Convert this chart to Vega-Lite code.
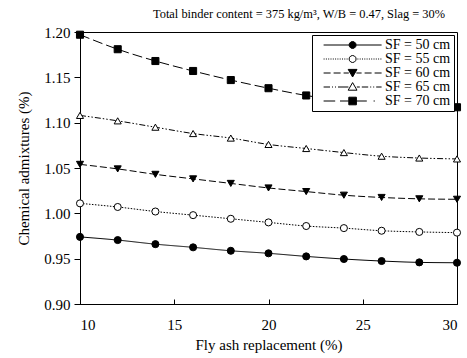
{
  "$schema": "https://vega.github.io/schema/vega-lite/v6.json",
  "width": 377,
  "height": 272,
  "autosize": {"type": "none"},
  "padding": {"left": 80, "top": 32, "right": 10, "bottom": 54},
  "background": "white",
  "title": {
    "text": "Total binder content = 375 kg/m³, W/B = 0.47, Slag = 30%",
    "font": "Liberation Serif",
    "fontSize": 12.4,
    "fontWeight": "normal",
    "color": "black",
    "anchor": "start",
    "frame": "group",
    "dx": 73,
    "offset": 5
  },
  "data": {
    "values": [
      {"x": 10, "v": 0.974, "SF": "SF = 50 cm"},
      {"x": 12, "v": 0.9705, "SF": "SF = 50 cm"},
      {"x": 14, "v": 0.966, "SF": "SF = 50 cm"},
      {"x": 16, "v": 0.9625, "SF": "SF = 50 cm"},
      {"x": 18, "v": 0.9587, "SF": "SF = 50 cm"},
      {"x": 20, "v": 0.9559, "SF": "SF = 50 cm"},
      {"x": 22, "v": 0.9525, "SF": "SF = 50 cm"},
      {"x": 24, "v": 0.9496, "SF": "SF = 50 cm"},
      {"x": 26, "v": 0.9474, "SF": "SF = 50 cm"},
      {"x": 28, "v": 0.9459, "SF": "SF = 50 cm"},
      {"x": 30, "v": 0.9455, "SF": "SF = 50 cm"},
      {"x": 10, "v": 1.011, "SF": "SF = 55 cm"},
      {"x": 12, "v": 1.007, "SF": "SF = 55 cm"},
      {"x": 14, "v": 1.002, "SF": "SF = 55 cm"},
      {"x": 16, "v": 0.998, "SF": "SF = 55 cm"},
      {"x": 18, "v": 0.994, "SF": "SF = 55 cm"},
      {"x": 20, "v": 0.990, "SF": "SF = 55 cm"},
      {"x": 22, "v": 0.986, "SF": "SF = 55 cm"},
      {"x": 24, "v": 0.9837, "SF": "SF = 55 cm"},
      {"x": 26, "v": 0.9808, "SF": "SF = 55 cm"},
      {"x": 28, "v": 0.9795, "SF": "SF = 55 cm"},
      {"x": 30, "v": 0.9787, "SF": "SF = 55 cm"},
      {"x": 10, "v": 1.054, "SF": "SF = 60 cm"},
      {"x": 12, "v": 1.049, "SF": "SF = 60 cm"},
      {"x": 14, "v": 1.043, "SF": "SF = 60 cm"},
      {"x": 16, "v": 1.038, "SF": "SF = 60 cm"},
      {"x": 18, "v": 1.033, "SF": "SF = 60 cm"},
      {"x": 20, "v": 1.028, "SF": "SF = 60 cm"},
      {"x": 22, "v": 1.024, "SF": "SF = 60 cm"},
      {"x": 24, "v": 1.020, "SF": "SF = 60 cm"},
      {"x": 26, "v": 1.0175, "SF": "SF = 60 cm"},
      {"x": 28, "v": 1.016, "SF": "SF = 60 cm"},
      {"x": 30, "v": 1.0155, "SF": "SF = 60 cm"},
      {"x": 10, "v": 1.108, "SF": "SF = 65 cm"},
      {"x": 12, "v": 1.102, "SF": "SF = 65 cm"},
      {"x": 14, "v": 1.095, "SF": "SF = 65 cm"},
      {"x": 16, "v": 1.088, "SF": "SF = 65 cm"},
      {"x": 18, "v": 1.083, "SF": "SF = 65 cm"},
      {"x": 20, "v": 1.076, "SF": "SF = 65 cm"},
      {"x": 22, "v": 1.0715, "SF": "SF = 65 cm"},
      {"x": 24, "v": 1.067, "SF": "SF = 65 cm"},
      {"x": 26, "v": 1.063, "SF": "SF = 65 cm"},
      {"x": 28, "v": 1.061, "SF": "SF = 65 cm"},
      {"x": 30, "v": 1.060, "SF": "SF = 65 cm"},
      {"x": 10, "v": 1.197, "SF": "SF = 70 cm"},
      {"x": 12, "v": 1.181, "SF": "SF = 70 cm"},
      {"x": 14, "v": 1.168, "SF": "SF = 70 cm"},
      {"x": 16, "v": 1.157, "SF": "SF = 70 cm"},
      {"x": 18, "v": 1.147, "SF": "SF = 70 cm"},
      {"x": 20, "v": 1.138, "SF": "SF = 70 cm"},
      {"x": 22, "v": 1.130, "SF": "SF = 70 cm"},
      {"x": 24, "v": 1.124, "SF": "SF = 70 cm"},
      {"x": 26, "v": 1.120, "SF": "SF = 70 cm"},
      {"x": 28, "v": 1.118, "SF": "SF = 70 cm"},
      {"x": 30, "v": 1.117, "SF": "SF = 70 cm"}
    ]
  },
  "encoding": {
    "x": {
      "field": "x",
      "type": "quantitative",
      "scale": {"domain": [10, 30], "nice": false, "zero": false},
      "axis": {
        "title": "Fly ash replacement (%)",
        "values": [10, 15, 20, 25, 30],
        "tickSize": -5,
        "labelPadding": 18,
        "titlePadding": 5,
        "labelFont": "Liberation Serif",
        "labelFontSize": 15
      }
    },
    "y": {
      "field": "v",
      "type": "quantitative",
      "scale": {"domain": [0.9, 1.2], "nice": false, "zero": false},
      "axis": {
        "title": "Chemical admixtures (%)",
        "values": [0.9, 0.95, 1.0, 1.05, 1.1, 1.15, 1.2],
        "format": ".2f",
        "tickSize": 6,
        "labelPadding": 4,
        "titlePadding": 12,
        "labelFont": "Liberation Serif",
        "labelFontSize": 15
      }
    }
  },
  "layer": [
    {
      "mark": {"type": "line", "color": "black", "strokeWidth": 1, "interpolate": "monotone"},
      "encoding": {
        "strokeDash": {
          "field": "SF",
          "type": "nominal",
          "scale": {
            "domain": ["SF = 70 cm", "SF = 65 cm", "SF = 60 cm", "SF = 55 cm", "SF = 50 cm"],
            "range": [[10, 4], [6, 2, 1.5, 2, 1.5, 2], [7, 3], [1.5, 1.5], [1, 0]]
          },
          "legend": null
        }
      }
    },
    {
      "mark": {"type": "point", "strokeWidth": 1, "size": 50, "opacity": 1},
      "encoding": {
        "shape": {
          "field": "SF",
          "type": "nominal",
          "scale": {
            "domain": ["SF = 50 cm", "SF = 55 cm", "SF = 60 cm", "SF = 65 cm", "SF = 70 cm"],
            "range": ["circle", "circle", "triangle-down", "triangle-up", "square"]
          },
          "legend": null
        },
        "fill": {
          "field": "SF",
          "type": "nominal",
          "scale": {
            "domain": ["SF = 50 cm", "SF = 55 cm", "SF = 60 cm", "SF = 65 cm", "SF = 70 cm"],
            "range": ["black", "white", "black", "white", "black"]
          },
          "legend": null
        },
        "stroke": {
          "field": "SF",
          "type": "nominal",
          "scale": {
            "domain": ["SF = 50 cm", "SF = 55 cm", "SF = 60 cm", "SF = 65 cm", "SF = 70 cm"],
            "range": ["black", "black", "black", "black", "black"]
          },
          "legend": null
        }
      }
    },
    {
      "mark": {"type": "point", "strokeWidth": 1, "size": 64, "opacity": 0},
      "encoding": {
        "shape": {
          "field": "SF",
          "type": "nominal",
          "scale": {
            "domain": ["SF = 50 cm", "SF = 55 cm", "SF = 60 cm", "SF = 65 cm", "SF = 70 cm"],
            "range": [
              "M0.4,0H6.775M8.525,0H14.9M8.525,0L8.408,0.438L8.088,0.758L7.65,0.875L7.212,0.758L6.892,0.438L6.775,0L6.892,-0.438L7.212,-0.758L7.65,-0.875L8.088,-0.758L8.408,-0.438Z",
              "M0.4,0H0.65M0.975,0H1.225M1.55,0H1.8M2.125,0H2.375M2.7,0H2.95M3.275,0H3.525M3.85,0H4.1M4.425,0H4.675M5.0,0H5.25M5.575,0H5.825M6.15,0H6.4M8.85,0H9.1M9.425,0H9.675M10.0,0H10.25M10.575,0H10.825M11.15,0H11.4M11.725,0H11.975M12.3,0H12.55M12.875,0H13.125M13.45,0H13.7M14.025,0H14.275M14.6,0H14.85M8.525,0L8.408,0.438L8.088,0.758L7.65,0.875L7.212,0.758L6.892,0.438L6.775,0L6.892,-0.438L7.212,-0.758L7.65,-0.875L8.088,-0.758L8.408,-0.438Z",
              "M0.4,0H2.15M2.9,0H4.65M5.4,0H6.7M8.6,0H9.9M10.65,0H12.4M13.15,0H14.9M7.65,1.0L8.75,-0.9L6.55,-0.9Z",
              "M0.4,0H2.0M2.5,0H2.75M3.25,0H3.5M4.0,0H6.6M8.7,0H9.45M9.95,0H11.55M12.05,0H12.3M12.8,0H13.05M13.55,0H14.9M7.65,-1.1L8.75,0.8L6.55,0.8Z",
              "M0.4,0H3.3M4.5,0H6.7M8.6,0H11.2M12.9,0H13.2M6.7,-0.95H8.6V0.95H6.7Z"
            ]
          },
          "legend": {
            "title": null,
            "orient": "top-right",
            "offset": 3,
            "padding": 3,
            "strokeColor": "black",
            "fillColor": "white",
            "symbolSize": 64,
            "symbolStrokeWidth": 1,
            "symbolOpacity": 1,
            "labelOffset": 56,
            "labelFont": "Liberation Serif",
            "labelFontSize": 14,
            "labelColor": "black",
            "rowPadding": 0
          }
        },
        "fill": {
          "field": "SF",
          "type": "nominal",
          "scale": {
            "domain": ["SF = 50 cm", "SF = 55 cm", "SF = 60 cm", "SF = 65 cm", "SF = 70 cm"],
            "range": ["black", "white", "black", "white", "black"]
          }
        },
        "stroke": {
          "field": "SF",
          "type": "nominal",
          "scale": {
            "domain": ["SF = 50 cm", "SF = 55 cm", "SF = 60 cm", "SF = 65 cm", "SF = 70 cm"],
            "range": ["black", "black", "black", "black", "black"]
          }
        }
      }
    }
  ],
  "resolve": {"scale": {"shape": "independent", "fill": "independent", "stroke": "independent"}},
  "config": {
    "view": {"stroke": "black", "strokeWidth": 1},
    "axis": {
      "grid": false,
      "domainColor": "black",
      "tickColor": "black",
      "labelColor": "black",
      "titleColor": "black",
      "labelFont": "Liberation Serif",
      "titleFont": "Liberation Serif",
      "labelFontSize": 15,
      "titleFontSize": 15,
      "titleFontWeight": "normal"
    }
  }
}
